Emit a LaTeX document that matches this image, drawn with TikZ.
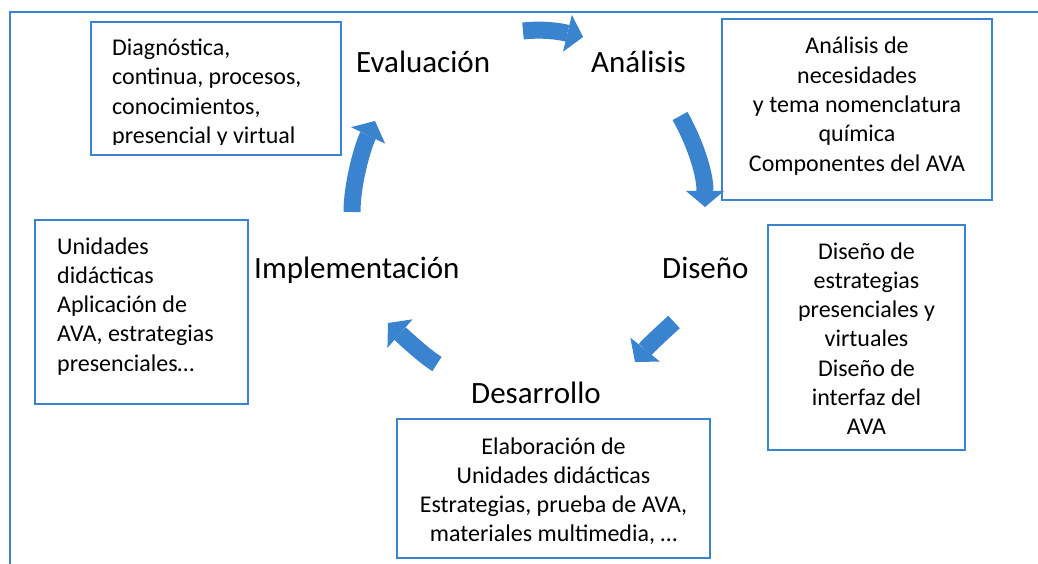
\documentclass[tikz,border=0pt]{standalone}
\usepackage{fontspec}
\setmainfont{Carlito}
\usetikzlibrary{arrows.meta}
\definecolor{smblue}{RGB}{58,131,207}
\begin{document}
\begin{tikzpicture}[x=1pt,y=-1pt,
  boxst/.style={draw=smblue, line width=2.6pt, inner sep=0pt},
  txt/.style={inner sep=0pt, font=\fontsize{24}{29.3}\selectfont},
  lbl/.style={inner sep=0pt, font=\fontsize{31}{36}\selectfont},
  arr/.style={draw=smblue, line width=17pt, -{Triangle[width=38pt,length=16pt,line width=0pt]}}]
\useasboundingbox (0,0) rectangle (1038,564);
% outer frame
\coordinate (fr1) at (10,564);
\coordinate (fr2) at (10,12);
\coordinate (fr3) at (1038,12);
\draw[smblue, line width=2pt] (fr1) -- (fr2) -- (fr3);
% boxes
\node[boxst, minimum width=250pt, minimum height=133pt] (evalbox) at (216,88.5) {};
\node[boxst, minimum width=270pt, minimum height=181pt] (anabox) at (857,109.5) {};
\node[boxst, minimum width=197pt, minimum height=225pt] (disbox) at (866.5,337.5) {};
\node[boxst, minimum width=313pt, minimum height=139pt] (desbox) at (553.5,488.5) {};
\node[boxst, minimum width=213pt, minimum height=184pt] (impbox) at (141.5,312) {};
% box texts
\begin{scope}
\clip (93,24) rectangle (339,145);
\node[txt, anchor=base west] (evaltxt) at (112,55.5) {\begin{tabular}[t]{@{}l@{}}Diagnóstica,\\continua, procesos,\\conocimientos,\\presencial y virtual\end{tabular}};
\end{scope}
\node[txt, anchor=base] (anatxt) at (857,54) {\begin{tabular}[t]{@{}c@{}}Análisis de\\necesidades\\y tema nomenclatura\\química\\Componentes del AVA\end{tabular}};
\node[txt, anchor=base] (distxt) at (866.5,259) {\begin{tabular}[t]{@{}c@{}}Diseño de\\estrategias\\presenciales y\\virtuales\\Diseño de\\interfaz del\\AVA\end{tabular}};
\node[txt, anchor=base] (destxt) at (553.5,454) {\begin{tabular}[t]{@{}c@{}}Elaboración de\\Unidades didácticas\\Estrategias, prueba de AVA,\\materiales multimedia, …\end{tabular}};
\node[txt, anchor=base west] (imptxt) at (57,254) {\begin{tabular}[t]{@{}l@{}}Unidades\\didácticas\\Aplicación de\\AVA, estrategias\\presenciales…\end{tabular}};
% labels
\node[lbl, anchor=base west] (evl) at (356,73) {Evaluación};
\node[lbl, anchor=base west] (anl) at (591,73) {Análisis};
\node[lbl, anchor=base west] (disl) at (662,278) {Diseño};
\node[lbl, anchor=base west] (impl) at (254,278) {Implementación};
\node[lbl, anchor=base west] (desl) at (471,403) {Desarrollo};
% arrows
\coordinate (a1s) at (523,31);  \coordinate (a1e) at (583,37);
\coordinate (a2s) at (680,116); \coordinate (a2e) at (705,207);
\coordinate (a3s) at (674,322); \coordinate (a3e) at (635,362);
\coordinate (a4s) at (437,364); \coordinate (a4e) at (388,323);
\coordinate (a5s) at (352,212); \coordinate (a5e) at (375,121);
\draw[arr] (a1s) .. controls (542,29) and (558,31) .. (a1e);
\draw[arr] (a2s) .. controls (692,137) and (705,170) .. (a2e);
\draw[arr] (a3s) .. controls (662,333) and (648,346) .. (a3e);
\draw[arr] (a4s) .. controls (424,356) and (405,338) .. (a4e);
\draw[arr] (a5s) .. controls (352,185) and (362,148) .. (a5e);
\end{tikzpicture}
\end{document}
